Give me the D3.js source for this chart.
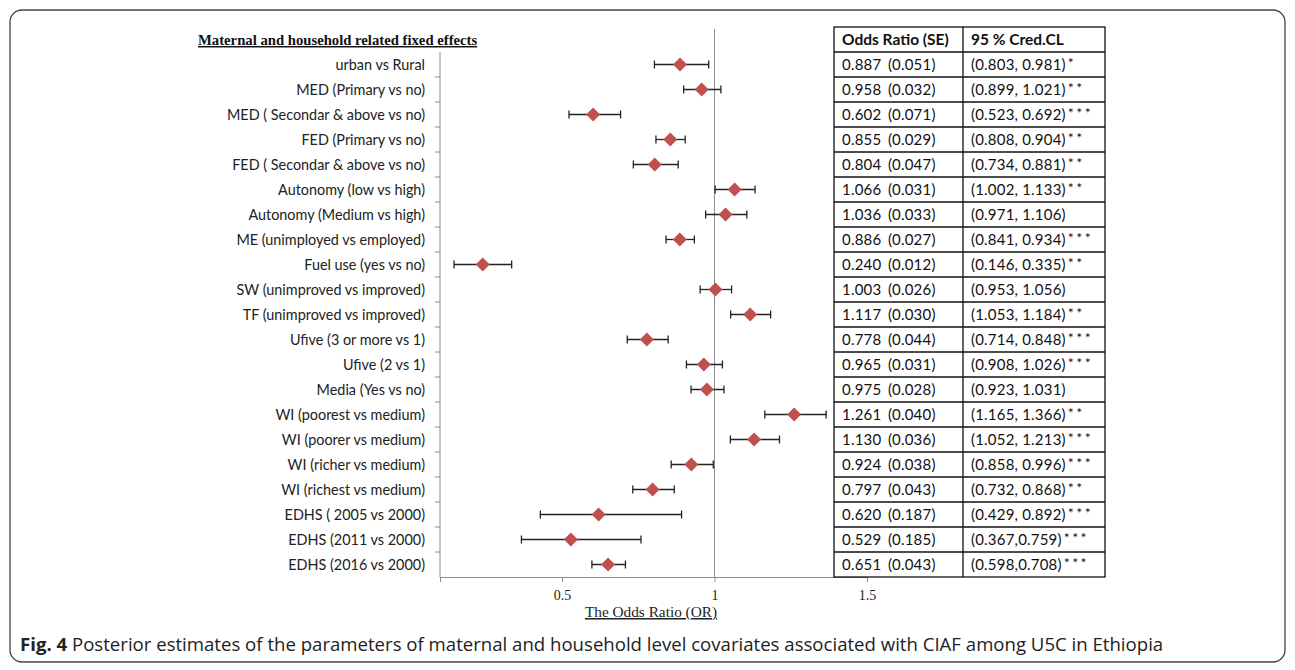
<!DOCTYPE html>
<html><head><meta charset="utf-8">
<script src="https://cdn.jsdelivr.net/npm/d3@7"></script>
<style>body{margin:0;background:#fff}</style>
</head><body>
<svg id="c" width="1295" height="670"></svg>
<script>
const categories = ["urban vs Rural","MED (Primary vs no)","MED ( Secondar & above vs no)","FED (Primary vs no)","FED ( Secondar & above vs no)","Autonomy (low vs high)","Autonomy (Medium vs high)","ME (unimployed vs employed)","Fuel use (yes vs no)","SW (unimproved vs improved)","TF (unimproved vs improved)","Ufive (3 or more vs 1)","Ufive (2 vs 1)","Media (Yes vs no)","WI (poorest vs medium)","WI (poorer vs medium)","WI (richer vs medium)","WI (richest vs medium)","EDHS ( 2005 vs 2000)","EDHS (2011 vs 2000)","EDHS (2016 vs 2000)"];
const oddsRatio = [0.887,0.958,0.602,0.855,0.804,1.066,1.036,0.886,0.240,1.003,1.117,0.778,0.965,0.975,1.261,1.130,0.924,0.797,0.620,0.529,0.651];
const se = ["0.051","0.032","0.071","0.029","0.047","0.031","0.033","0.027","0.012","0.026","0.030","0.044","0.031","0.028","0.040","0.036","0.038","0.043","0.187","0.185","0.043"];
const lower = [0.803,0.899,0.523,0.808,0.734,1.002,0.971,0.841,0.146,0.953,1.053,0.714,0.908,0.923,1.165,1.052,0.858,0.732,0.429,0.367,0.598];
const upper = [0.981,1.021,0.692,0.904,0.881,1.133,1.106,0.934,0.335,1.056,1.184,0.848,1.026,1.031,1.366,1.213,0.996,0.868,0.892,0.759,0.708];
const ciText = ["(0.803, 0.981)","(0.899, 1.021)","(0.523, 0.692)","(0.808, 0.904)","(0.734, 0.881)","(1.002, 1.133)","(0.971, 1.106)","(0.841, 0.934)","(0.146, 0.335)","(0.953, 1.056)","(1.053, 1.184)","(0.714, 0.848)","(0.908, 1.026)","(0.923, 1.031)","(1.165, 1.366)","(1.052, 1.213)","(0.858, 0.996)","(0.732, 0.868)","(0.429, 0.892)","(0.367,0.759)","(0.598,0.708)"];
const stars = ["*","**","***","**","**","**","","***","**","","**","***","***","","**","***","***","**","***","***","***"];
const xTicks = [0.5, 1, 1.5];
const tableHeaders = ["Odds Ratio (SE)", "95 % Cred.CL"];

const svg = d3.select("#c");
const data = categories.map((c,i)=>({c, or:oddsRatio[i], se:se[i], lo:lower[i], hi:upper[i], ci:ciText[i], st:stars[i]}));

// outer frame
svg.append("rect").attr("x",10).attr("y",10).attr("width",1275).attr("height",652)
  .attr("rx",12).attr("fill","none").attr("stroke","#444").attr("stroke-width",1.3);

const x = d3.scaleLinear().domain([0.1,1.5]).range([440,867]);
const y = d3.scaleBand().domain(categories).range([52,577]);
const axisCol = "#8c8c8c";

// x axis
const gx = svg.append("g").attr("transform","translate(0,577)")
  .call(d3.axisBottom(x).tickValues([0.1].concat(xTicks)).tickSize(5).tickSizeOuter(0).tickFormat(d=>xTicks.includes(d)?d3.format("")(d):""));
gx.select(".domain").attr("stroke",axisCol);
gx.selectAll(".tick line").attr("stroke",axisCol);
gx.selectAll(".tick text").attr("font-family","'Liberation Serif', serif").attr("font-size",14).attr("fill","#222").attr("dy","1.1em");

// y axis line with boundary ticks
svg.append("line").attr("x1",440).attr("x2",440).attr("y1",52).attr("y2",577).attr("stroke",axisCol);
svg.selectAll(".yt").data(categories.slice(1)).enter().append("line")
  .attr("x1",435).attr("x2",440).attr("y1",d=>y(d)).attr("y2",d=>y(d)).attr("stroke",axisCol);

// reference line at 1
svg.append("line").attr("x1",x(1)).attr("x2",x(1)).attr("y1",29).attr("y2",577).attr("stroke",axisCol);

// labels
svg.selectAll(".lab").data(data).enter().append("text")
  .attr("x",425).attr("y",d=>y(d.c)+y.bandwidth()/2).attr("dy","0.35em")
  .attr("text-anchor","end").attr("font-family","Lato, sans-serif").attr("font-size",14.4).attr("fill","#222")
  .text(d=>d.c);

// title
svg.append("text").attr("x",198).attr("y",45).attr("font-family","'Liberation Serif', serif")
  .attr("font-weight","bold").attr("font-size",14.7).attr("text-decoration","underline").attr("fill","#111")
  .text("Maternal and household related fixed effects");

// error bars
const g = svg.append("g");
data.forEach(d=>{
  const cy = y(d.c)+y.bandwidth()/2;
  g.append("line").attr("x1",x(d.lo)).attr("x2",x(d.hi)).attr("y1",cy).attr("y2",cy).attr("stroke","#222").attr("stroke-width",1.3);
  [d.lo,d.hi].forEach(v=>g.append("line").attr("x1",x(v)).attr("x2",x(v)).attr("y1",cy-4).attr("y2",cy+4).attr("stroke","#222").attr("stroke-width",1.3));
  g.append("path").attr("d",`M${x(d.or)},${cy-7}L${x(d.or)+7},${cy}L${x(d.or)},${cy+7}L${x(d.or)-7},${cy}Z`).attr("fill","#C0504D");
});

// axis title
svg.append("text").attr("x",651).attr("y",617).attr("text-anchor","middle").attr("font-family","'Liberation Serif', serif")
  .attr("font-size",15.3).attr("text-decoration","underline").attr("fill","#222").text("The Odds Ratio (OR)");

// table
const tx0=834, tx1=963, tx2=1105, ty0=27;
const tg = svg.append("g");
tg.append("rect").attr("x",tx0).attr("y",ty0).attr("width",tx2-tx0).attr("height",577-ty0).attr("fill","#fff").attr("stroke","#111").attr("stroke-width",1.3);
tg.append("line").attr("x1",tx1).attr("x2",tx1).attr("y1",ty0).attr("y2",577).attr("stroke","#111").attr("stroke-width",1.3);
tg.append("line").attr("x1",tx0).attr("x2",tx2).attr("y1",52).attr("y2",52).attr("stroke","#111").attr("stroke-width",1.3);
tg.selectAll(".rl").data(categories.slice(1)).enter().append("line")
  .attr("x1",tx0).attr("x2",tx2).attr("y1",d=>y(d)).attr("y2",d=>y(d)).attr("stroke","#111").attr("stroke-width",1.3);
tg.selectAll(".hd").data(tableHeaders).enter().append("text")
  .attr("x",(d,i)=>i?971:842).attr("y",40).attr("dy","0.35em").attr("font-family","Lato, sans-serif")
  .attr("font-weight","bold").attr("font-size",15.5).attr("fill","#111").text(d=>d);
tg.selectAll(".c1").data(data).enter().append("text")
  .attr("x",842).attr("y",d=>y(d.c)+y.bandwidth()/2).attr("dy","0.35em").attr("font-family","Lato, sans-serif")
  .attr("font-size",15).attr("word-spacing",2.5).attr("letter-spacing",0.2).attr("fill","#111").text(d=>d.or.toFixed(3)+" ("+d.se+")");
const c2 = tg.selectAll(".c2").data(data).enter().append("text")
  .attr("x",971).attr("y",d=>y(d.c)+y.bandwidth()/2).attr("dy","0.35em").attr("font-family","Lato, sans-serif")
  .attr("font-size",15).attr("letter-spacing",0.2).attr("fill","#111");
c2.append("tspan").text(d=>d.ci);
c2.append("tspan").attr("dy","-0.15em").attr("dx",2).attr("letter-spacing","2.5").attr("font-size",14).text(d=>d.st);

// caption
const cap = svg.append("text").attr("x",20).attr("y",651).attr("font-family","'Open Sans', sans-serif").attr("font-size",18.6).attr("fill","#222");
cap.append("tspan").attr("font-weight","bold").text("Fig. 4");
cap.append("tspan").text(" Posterior estimates of the parameters of maternal and household level covariates associated with CIAF among U5C in Ethiopia");
</script>
</body></html>
